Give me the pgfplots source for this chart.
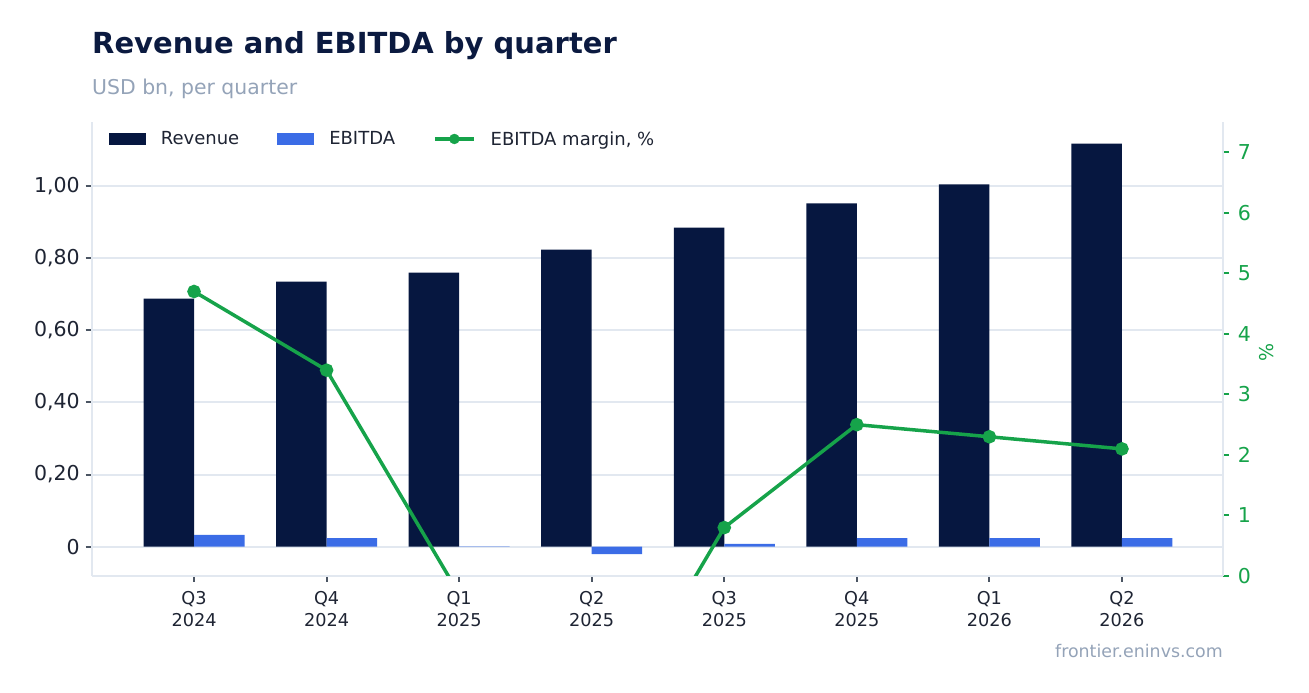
\documentclass[border=0pt]{standalone}
\usepackage{fontspec}
\setmainfont{DejaVu Sans}
\usepackage{pgfplots}
\pgfplotsset{compat=1.18}
\definecolor{navy}{HTML}{061740}
\definecolor{ebit}{HTML}{3B6CE6}
\definecolor{mgreen}{HTML}{16A34A}
\definecolor{gridc}{HTML}{E2E8F0}
\definecolor{labc}{HTML}{1E2433}
\definecolor{tickc}{HTML}{4B5563}
\definecolor{subc}{HTML}{94A3B8}
\definecolor{titlec}{HTML}{0B1A40}
\begin{document}
\begin{tikzpicture}
\path[use as bounding box] (0bp,0bp) rectangle (1309bp,693bp);
\node[anchor=base west, font=\fontsize{29bp}{34bp}\selectfont\bfseries, text=titlec, inner sep=0pt] at (92bp,639.5bp) {Revenue and EBITDA by quarter};
\node[anchor=base west, font=\fontsize{20.4bp}{24bp}\selectfont, text=subc, inner sep=0pt] at (92bp,598bp) {USD bn, per quarter};
\node[anchor=base east, font=\fontsize{17.4bp}{20bp}\selectfont, text=subc, inner sep=0pt] at (1223bp,35.3bp) {frontier.eninvs.com};

\begin{axis}[
  at={(91.7bp,117bp)}, anchor=south west, scale only axis,
  width=1131.6bp, height=454bp,
  xmin=-0.772, xmax=7.764, ymin=-0.0814, ymax=1.178,
  axis x line*=bottom, axis y line*=left,
  axis line style={draw=gridc, line width=2bp},
  ytick={0,0.2,0.4,0.6,0.8,1.0},
  yticklabels={0,{0,20},{0,40},{0,60},{0,80},{1,00}},
  xtick={0,1,2,3,4,5,6,7},
  xticklabels={{Q3\\2024},{Q4\\2024},{Q1\\2025},{Q2\\2025},{Q3\\2025},{Q4\\2025},{Q1\\2026},{Q2\\2026}},
  xticklabel style={align=center, font=\fontsize{17.7bp}{22.5bp}\selectfont, text=labc, yshift=-5.5bp},
  yticklabel style={font=\fontsize{20.5bp}{24bp}\selectfont, text=labc, xshift=-2.5bp},
  ymajorgrids, grid style={draw=gridc, line width=2bp},
  tick align=outside, major tick length=6bp,
  tick style={draw=tickc, line width=2bp},
  /pgf/number format/assume math mode=true,
  ybar, bar width=50.5bp,
  legend columns=3,
  legend cell align=left,
  legend style={at={(rel axis cs:0.015,0.9626)}, anchor=west, draw=none, fill=none,
    inner sep=0pt, font=\fontsize{18bp}{22bp}\selectfont,
    nodes={inner sep=0pt, text=labc},
    /tikz/every odd column/.append style={column sep=15bp},
    /tikz/every even column/.append style={column sep=38bp}},
]
\addplot[ybar, bar shift=-25.25bp, fill=navy, draw=none,
  legend image code/.code={\fill[navy] (0bp,-6.3bp) rectangle (37bp,6.3bp);}]
  coordinates {(0,0.688) (1,0.735) (2,0.760) (3,0.824) (4,0.885) (5,0.952) (6,1.005) (7,1.118)};
\addlegendentry{Revenue}
\addplot[ybar, bar shift=25.25bp, fill=ebit, draw=none,
  legend image code/.code={\fill[ebit] (0bp,-6.3bp) rectangle (37bp,6.3bp);}]
  coordinates {(0,0.0325) (1,0.024) (2,-0.0008) (3,-0.021) (4,0.0075) (5,0.024) (6,0.024) (7,0.024)};
\addlegendentry{EBITDA}
\addlegendimage{legend image code/.code={\draw[mgreen, line width=3.5bp] (0bp,0bp) -- (39bp,0bp); \fill[mgreen] (19.5bp,0bp) circle (5bp);}}
\addlegendentry{EBITDA margin, \%}
\end{axis}

\begin{axis}[
  at={(91.7bp,117bp)}, anchor=south west, scale only axis,
  width=1131.6bp, height=454bp,
  xmin=-0.772, xmax=7.764, ymin=0, ymax=7.5,
  hide x axis,
  axis y line*=right,
  axis line style={draw=gridc, line width=2bp},
  ytick={0,1,2,3,4,5,6,7},
  yticklabel style={font=\fontsize{20.5bp}{24bp}\selectfont, text=mgreen, xshift=5bp},
  tick align=outside, major tick length=6bp,
  tick style={draw=mgreen, line width=2bp},
  /pgf/number format/assume math mode=true,
  ylabel={\%},
  ylabel style={at={(axis description cs:1.0386,0.493)}, anchor=center, font=\fontsize{19bp}{22bp}\selectfont, text=mgreen},
]
\addplot[color=mgreen, line width=3.5bp, mark=*, mark size=5bp, mark options={draw=none, fill=mgreen}]
  coordinates {(0,4.7) (1,3.4) (2,-0.3) (3,-2.9) (4,0.8) (5,2.5) (6,2.3) (7,2.1)};
\end{axis}
\end{tikzpicture}
\end{document}
